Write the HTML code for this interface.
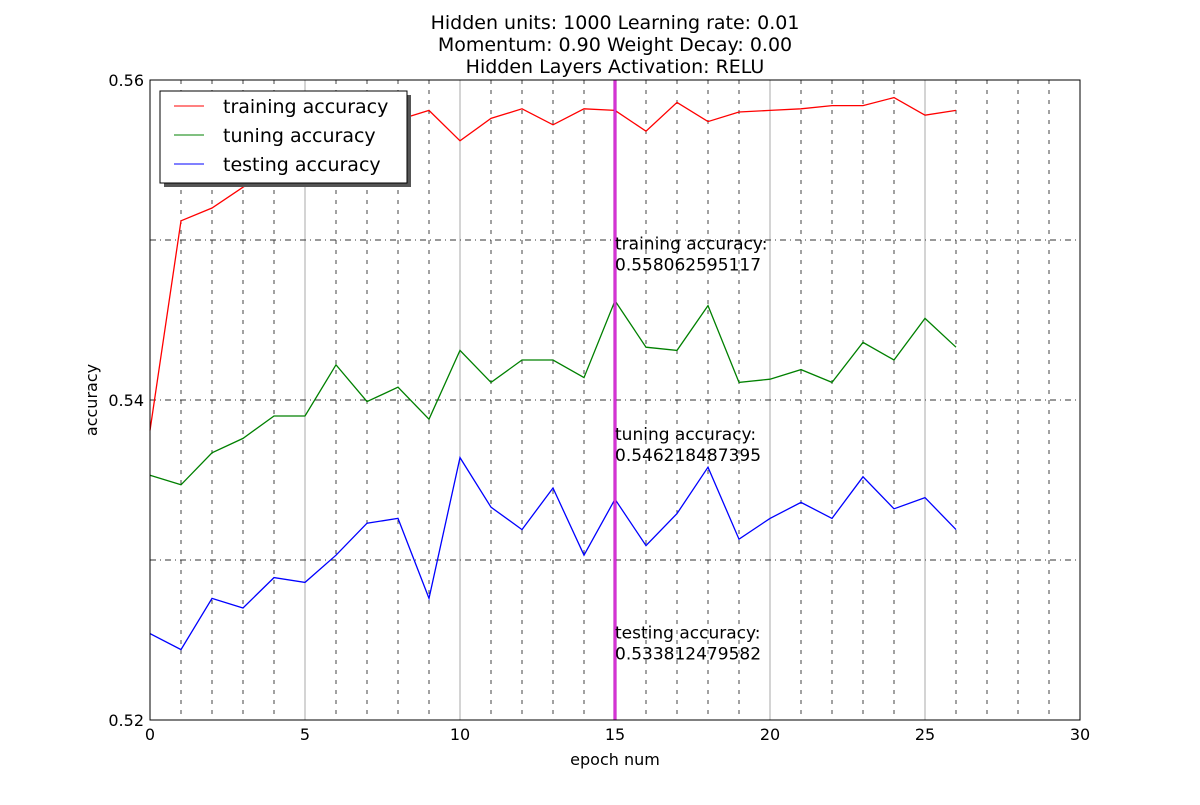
<!DOCTYPE html>
<html><head><meta charset="utf-8"><style>
body{margin:0;background:#fff;}
svg text{font-family:"DejaVu Sans","Liberation Sans",sans-serif;}
</style></head><body>
<svg id="chart" width="1200" height="800" xmlns="http://www.w3.org/2000/svg">
<g font-size="19" text-anchor="middle" fill="#000">
<text x="615" y="29">Hidden units: 1000 Learning rate: 0.01</text>
<text x="615" y="51">Momentum: 0.90 Weight Decay: 0.00</text>
<text x="615" y="73">Hidden Layers Activation: RELU</text>
</g>
<g id="grid"></g>
<g id="series"></g>
<rect x="150" y="80" width="930" height="640" fill="none" stroke="#000" stroke-width="1"/>
<g id="ticks" font-size="16"></g>
<text x="615" y="765" font-size="16" text-anchor="middle">epoch num</text>
<text x="0" y="0" font-size="16" text-anchor="middle" transform="translate(97,400) rotate(-90)">accuracy</text>
<g id="annot" font-size="17"></g>
<g>
<rect x="164" y="95" width="247" height="92" fill="#555"/>
<rect x="160" y="91" width="247" height="92" fill="#fff" stroke="#000" stroke-width="1"/>
<g><line x1="174" y1="106" x2="204" y2="106" stroke="#f00"/><text x="223" y="113" font-size="19">training accuracy</text></g>
<g><line x1="174" y1="135" x2="204" y2="135" stroke="#008000"/><text x="223" y="142" font-size="19">tuning accuracy</text></g>
<g><line x1="174" y1="164" x2="204" y2="164" stroke="#00f"/><text x="223" y="171" font-size="19">testing accuracy</text></g>
</g>
</svg>
<script>
const epochs=[0,1,2,3,4,5,6,7,8,9,10,11,12,13,14,15,16,17,18,19,20,21,22,23,24,25,26];
const training=[0.5381,0.5512,0.5520,0.5533,0.5545,0.5553,0.5562,0.5570,0.5575,0.5581,0.5562,0.5576,0.5582,0.5572,0.5582,0.5581,0.5568,0.5586,0.5574,0.5580,0.5581,0.5582,0.5584,0.5584,0.5589,0.5578,0.5581];
const tuning=[0.5353,0.5347,0.5367,0.5376,0.5390,0.5390,0.5422,0.5399,0.5408,0.5388,0.5431,0.5411,0.5425,0.5425,0.5414,0.5462,0.5433,0.5431,0.5459,0.5411,0.5413,0.5419,0.5411,0.5436,0.5425,0.5451,0.5433];
const testing=[0.5254,0.5244,0.5276,0.5270,0.5289,0.5286,0.5303,0.5323,0.5326,0.5276,0.5364,0.5333,0.5319,0.5345,0.5303,0.5338,0.5309,0.5329,0.5358,0.5313,0.5326,0.5336,0.5326,0.5352,0.5332,0.5339,0.5319];
const xTicks=[0,5,10,15,20,25,30];
const yTicks=[0.52,0.54,0.56];
const yGrid=[0.53,0.54,0.55];
const markEpoch=15;
const annotLabels=["training accuracy:","tuning accuracy:","testing accuracy:"];
const annotValues=["0.558062595117","0.546218487395","0.533812479582"];
const annotYs=[0.5494,0.5375,0.5251];

const X=v=>150+(v-0)/(30-0)*930;
const Y=v=>720-(v-0.52)/(0.04)*640;
const NS="http://www.w3.org/2000/svg";
function mk(tag,attrs,parent){const e=document.createElementNS(NS,tag);for(const k in attrs)e.setAttribute(k,attrs[k]);parent.appendChild(e);return e;}
const grid=document.getElementById('grid');
for(let i=1;i<30;i++){
  const major=i%5===0;
  const l=mk('line',{x1:X(i),x2:X(i),y1:80,y2:720,stroke:major?'#aaa':'#444','stroke-width':1,'stroke-dasharray':major?'none':'4,6'},grid);
  
  
}
yGrid.forEach(v=>{
  const l=mk('line',{x1:150,x2:1080,y1:Y(v),y2:Y(v),stroke:'#333','stroke-width':1,'stroke-dasharray':'6,4,1,4'},grid);
  
  
});
const ticks=document.getElementById('ticks');
xTicks.forEach(v=>{
  const t=mk('text',{x:X(v),y:740,'text-anchor':'middle'},ticks);t.textContent=v;
  
  
});
yTicks.forEach(v=>{
  const t=mk('text',{x:144,y:Y(v)+6,'text-anchor':'end'},ticks);t.textContent=v.toFixed(2);
  
  
});
const series=document.getElementById('series');
[[training,'#f00','training-line'],[tuning,'#008000','tuning-line'],[testing,'#00f','testing-line']].forEach(([d,c,n])=>{
  const p=mk('polyline',{points:d.map((v,i)=>X(epochs[i])+','+Y(v)).join(' '),fill:'none',stroke:c,'stroke-width':1.3},series);
  
  
});
const vl=mk('line',{x1:X(markEpoch),x2:X(markEpoch),y1:80,y2:720,stroke:'#b0b',"stroke-width":3},series);


mk('line',{x1:X(markEpoch),x2:X(markEpoch),y1:80,y2:720,stroke:'#e6e',"stroke-width":1},series);
const annot=document.getElementById('annot');
annotLabels.forEach((s,i)=>{
  const t=mk('text',{x:X(markEpoch),y:Y(annotYs[i])},annot);t.textContent=s;
  
  
  const t2=mk('text',{x:X(markEpoch),y:Y(annotYs[i])+21},annot);t2.textContent=annotValues[i];
  
  
});
</script>
</body></html>
